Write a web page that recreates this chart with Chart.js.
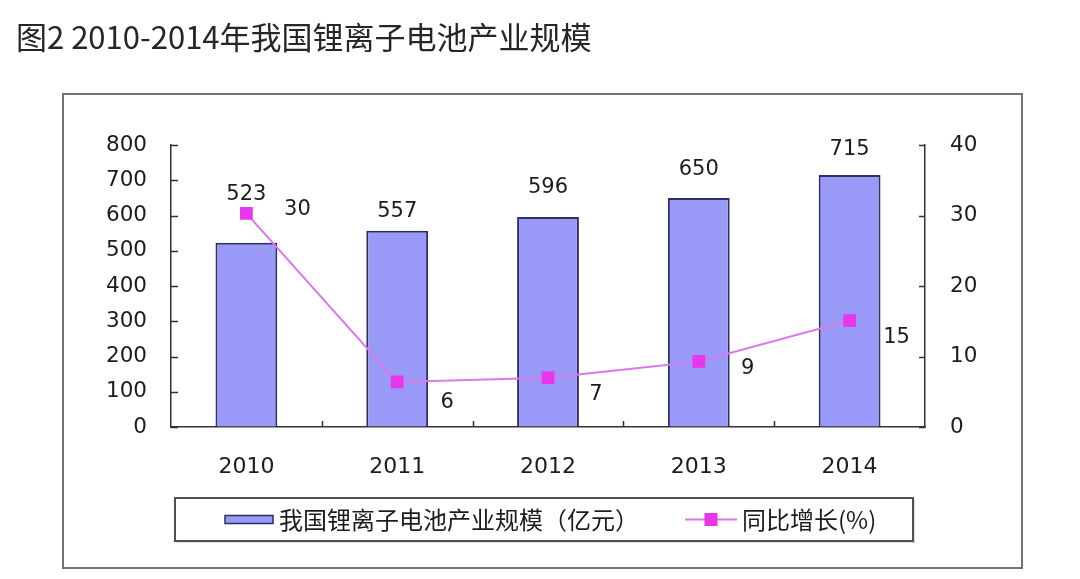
<!DOCTYPE html>
<html>
<head>
<meta charset="utf-8">
<script src="https://cdn.jsdelivr.net/npm/chart.js@4"></script>
<style>
html,body{margin:0;padding:0;background:#fff;}
canvas{display:block;}
</style>
</head>
<body>
<canvas id="c" width="1080" height="579"></canvas>
<script>
// ---- data ----
const titleText = '图2 2010-2014年我国锂离子电池产业规模';
const years = ['2010', '2011', '2012', '2013', '2014'];
const scaleValues = [523, 557, 596, 650, 715];        // 我国锂离子电池产业规模（亿元）
const growthValues = [30.3, 6.4, 7.0, 9.3, 15.1];      // 同比增长(%)
const barSeriesName = '我国锂离子电池产业规模（亿元）';
const lineSeriesName = '同比增长(%)';
const leftTicks = {min: 0, max: 800, step: 100};
const rightTicks = {min: 0, max: 40, step: 10};

// ---- styles ----
const numFont = '"DejaVu Sans", sans-serif';
const cjkFont = '"Noto Sans CJK SC", sans-serif';
const textColor = '#1c1c1c';
const barFill = '#9999f7';
const barBorder = '#2e2e62';
const lineColor = '#dc78ee';
const markerColor = '#ea36ea';
const axisColor = '#333333';
const barLabelDy = [-48, -19, -29, -28, -25];
const lineLabelOffset = [[51, -4], [50, 21], [48, 17], [49, 7], [47, 17]];

const decor = {
  id: 'decor',
  beforeDraw(chart) {
    const ctx = chart.ctx;
    ctx.save();
    ctx.fillStyle = '#fff';
    ctx.fillRect(0, 0, chart.width, chart.height);
    // title
    ctx.fillStyle = '#262626';
    ctx.font = '31px ' + cjkFont;
    ctx.textBaseline = 'middle';
    ctx.textAlign = 'left';
    ctx.fillText(titleText, 16, 37);
    // outer frame
    ctx.strokeStyle = '#727272';
    ctx.lineWidth = 2;
    ctx.strokeRect(63, 94, 959, 474);
    ctx.restore();
  },
  afterDraw(chart) {
    const ctx = chart.ctx;
    const a = chart.chartArea;
    const y = chart.scales.y, y1 = chart.scales.y1;
    ctx.save();
    ctx.strokeStyle = axisColor;
    ctx.lineWidth = 1.5;
    ctx.beginPath();
    // left ticks (inward)
    for (let v = leftTicks.min; v <= leftTicks.max; v += leftTicks.step) {
      const py = Math.round(y.getPixelForValue(v)) + 0.5;
      ctx.moveTo(a.left, py); ctx.lineTo(a.left + 7, py);
    }
    // right ticks (inward)
    for (let v = rightTicks.min; v <= rightTicks.max; v += rightTicks.step) {
      const py = Math.round(y1.getPixelForValue(v)) + 0.5;
      ctx.moveTo(a.right, py); ctx.lineTo(a.right - 6, py);
    }
    // category boundary ticks
    const n = years.length;
    for (let i = 1; i < n; i++) {
      const px = Math.round(a.left + (a.right - a.left) * i / n) + 0.5;
      ctx.moveTo(px, a.bottom); ctx.lineTo(px, a.bottom - 6);
    }
    ctx.stroke();

    // data labels
    ctx.fillStyle = textColor;
    ctx.font = '21px ' + numFont;
    ctx.textAlign = 'center';
    ctx.textBaseline = 'middle';
    const barMeta = chart.getDatasetMeta(0);
    barMeta.data.forEach((el, i) => {
      ctx.fillText(String(scaleValues[i]), el.x, el.y + barLabelDy[i]);
    });
    const lineMeta = chart.getDatasetMeta(1);
    lineMeta.data.forEach((el, i) => {
      const o = lineLabelOffset[i];
      ctx.fillText(growthValues[i].toFixed(0), el.x + o[0], el.y + o[1]);
    });

    // legend
    const lx = 175, ly = 498, lw = 738, lh = 43;
    ctx.fillStyle = 'rgba(0,0,0,0.12)';
    ctx.fillRect(lx + 2, ly + lh, lw, 2);
    ctx.fillRect(lx + lw, ly + 2, 2, lh);
    ctx.strokeStyle = '#4f4f4f';
    ctx.lineWidth = 2;
    ctx.strokeRect(lx, ly, lw, lh);
    const cy = ly + lh / 2;
    // bar swatch
    ctx.fillStyle = barFill;
    ctx.strokeStyle = barBorder;
    ctx.lineWidth = 1.5;
    ctx.fillRect(225, cy - 4, 48, 8);
    ctx.strokeRect(225, cy - 4, 48, 8);
    ctx.fillStyle = textColor;
    ctx.font = '24px ' + cjkFont;
    ctx.textAlign = 'left';
    ctx.textBaseline = 'middle';
    ctx.fillText(chart.data.datasets[0].label, 279, cy);
    // line swatch
    ctx.strokeStyle = lineColor;
    ctx.lineWidth = 2;
    ctx.beginPath();
    ctx.moveTo(685, cy); ctx.lineTo(737, cy);
    ctx.stroke();
    ctx.fillStyle = markerColor;
    ctx.fillRect(711 - 6.5, cy - 6.5, 13, 13);
    ctx.fillStyle = textColor;
    ctx.fillText(chart.data.datasets[1].label, 742, cy);
    ctx.restore();
  }
};

new Chart(document.getElementById('c'), {
  data: {
    labels: years,
    datasets: [
      {
        type: 'bar',
        label: barSeriesName,
        data: scaleValues,
        yAxisID: 'y',
        backgroundColor: barFill,
        borderColor: barBorder,
        borderWidth: 2,
        barPercentage: 0.41,
        categoryPercentage: 1.0,
        order: 2
      },
      {
        type: 'line',
        label: lineSeriesName,
        data: growthValues,
        yAxisID: 'y1',
        borderColor: lineColor,
        borderWidth: 2,
        pointStyle: 'rect',
        pointRadius: 9,
        pointBackgroundColor: markerColor,
        pointBorderColor: markerColor,
        pointBorderWidth: 0,
        tension: 0,
        fill: false,
        order: 1
      }
    ]
  },
  options: {
    responsive: false,
    animation: false,
    devicePixelRatio: 1,
    layout: {padding: {top: 145, left: 0, right: 0, bottom: 0}},
    plugins: {
      legend: {display: false},
      tooltip: {enabled: false},
      title: {display: false}
    },
    scales: {
      x: {
        offset: true,
        grid: {display: true, drawOnChartArea: false, drawTicks: false, color: 'rgba(0,0,0,0)'},
        border: {display: true, color: axisColor, width: 1.5},
        ticks: {color: textColor, font: {family: numFont, size: 22}, padding: 27, maxRotation: 0},
        afterFit(s) { s.height = 579 - 427; }
      },
      y: {
        position: 'left',
        min: leftTicks.min, max: leftTicks.max,
        grid: {display: true, drawOnChartArea: false, drawTicks: false, color: 'rgba(0,0,0,0)'},
        border: {display: true, color: axisColor, width: 1.5},
        ticks: {stepSize: leftTicks.step, color: textColor, font: {family: numFont, size: 21.5}, padding: 24},
        afterFit(s) { s.width = 171; }
      },
      y1: {
        position: 'right',
        min: rightTicks.min, max: rightTicks.max,
        grid: {display: true, drawOnChartArea: false, drawTicks: false, color: 'rgba(0,0,0,0)'},
        border: {display: true, color: axisColor, width: 1.5},
        ticks: {stepSize: rightTicks.step, color: textColor, font: {family: numFont, size: 21.5}, padding: 25},
        afterFit(s) { s.width = 1080 - 925; }
      }
    }
  },
  plugins: [decor]
});
</script>
</body>
</html>
